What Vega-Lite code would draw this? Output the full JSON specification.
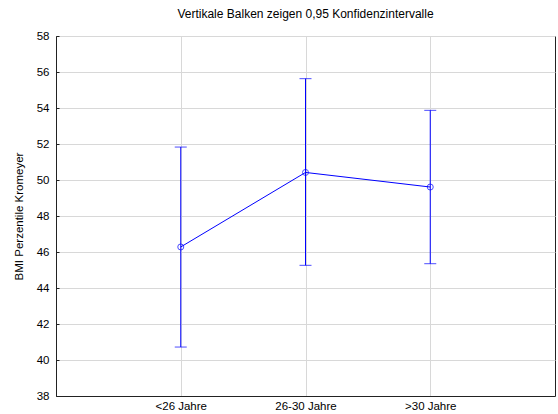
{
  "$schema": "https://vega.github.io/schema/vega-lite/v6.json",
  "width": 499,
  "height": 360,
  "autosize": {"type": "none"},
  "padding": {"left": 56, "top": 36, "right": 3, "bottom": 18},
  "title": {"text": "Vertikale Balken zeigen 0,95 Konfidenzintervalle", "font": "Liberation Sans", "fontSize": 12, "fontWeight": "normal", "color": "#000", "offset": 9, "anchor": "middle"},
  "config": {
    "font": "Liberation Sans",
    "view": {"stroke": "#222", "strokeWidth": 1},
    "axis": {"labelFont": "Liberation Sans", "labelFontSize": 11.5, "labelColor": "#000", "titleFont": "Liberation Sans", "titleFontSize": 11.5, "titleFontWeight": "normal", "titleColor": "#000", "gridColor": "#d8d8d8", "gridWidth": 1, "domainColor": "#222"}
  },
  "data": {"values": [
    {"group": "<26 Jahre", "mean": 46.28, "lo": 40.72, "hi": 51.83},
    {"group": "26-30 Jahre", "mean": 50.42, "lo": 45.26, "hi": 55.63},
    {"group": ">30 Jahre", "mean": 49.61, "lo": 45.35, "hi": 53.87}
  ]},
  "encoding": {
    "x": {"field": "group", "type": "ordinal", "sort": null, "scale": {"type": "point", "padding": 1},
      "axis": {"title": null, "labelAngle": 0, "ticks": false, "labelPadding": 4, "grid": true}}
  },
  "layer": [
    {
      "mark": {"type": "rule", "color": "#0000ff", "strokeWidth": 1},
      "encoding": {
        "y": {"field": "lo", "type": "quantitative", "scale": {"domain": [38, 58], "nice": false, "zero": false},
          "axis": {"title": "BMI Perzentile Kromeyer", "values": [38,40,42,44,46,48,50,52,54,56,58], "labelOverlap": false, "labelFlush": false, "tickSize": -3, "tickColor": "#222", "labelPadding": 10, "titlePadding": 12}},
        "y2": {"field": "hi"}
      }
    },
    {
      "mark": {"type": "tick", "color": "#0000ff", "size": 12, "thickness": 1, "orient": "horizontal"},
      "encoding": {"y": {"field": "lo", "type": "quantitative",
          "axis": {"title": "BMI Perzentile Kromeyer", "values": [38,40,42,44,46,48,50,52,54,56,58], "labelOverlap": false, "labelFlush": false, "tickSize": -3, "tickColor": "#222", "labelPadding": 10, "titlePadding": 12}}}
    },
    {
      "mark": {"type": "tick", "color": "#0000ff", "size": 12, "thickness": 1, "orient": "horizontal"},
      "encoding": {"y": {"field": "hi", "type": "quantitative",
          "axis": {"title": "BMI Perzentile Kromeyer", "values": [38,40,42,44,46,48,50,52,54,56,58], "labelOverlap": false, "labelFlush": false, "tickSize": -3, "tickColor": "#222", "labelPadding": 10, "titlePadding": 12}}}
    },
    {
      "mark": {"type": "line", "color": "#0000ff", "strokeWidth": 1},
      "encoding": {"y": {"field": "mean", "type": "quantitative",
          "axis": {"title": "BMI Perzentile Kromeyer", "values": [38,40,42,44,46,48,50,52,54,56,58], "labelOverlap": false, "labelFlush": false, "tickSize": -3, "tickColor": "#222", "labelPadding": 10, "titlePadding": 12}}}
    },
    {
      "mark": {"type": "point", "shape": "circle", "filled": false, "color": "#0000ff", "size": 36, "strokeWidth": 1},
      "encoding": {"y": {"field": "mean", "type": "quantitative",
          "axis": {"title": "BMI Perzentile Kromeyer", "values": [38,40,42,44,46,48,50,52,54,56,58], "labelOverlap": false, "labelFlush": false, "tickSize": -3, "tickColor": "#222", "labelPadding": 10, "titlePadding": 12}}}
    }
  ]
}
